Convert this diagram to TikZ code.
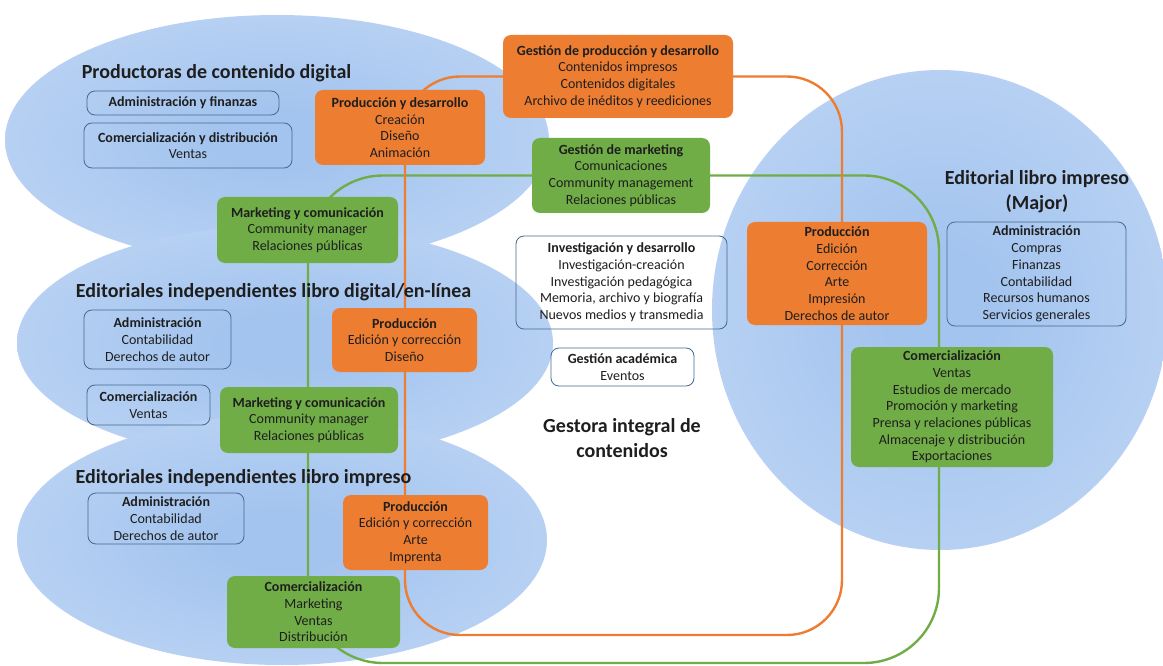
\documentclass[tikz,border=0pt]{standalone}
\usepackage{fontspec}
\setmainfont{Carlito}
\definecolor{borange}{HTML}{ED7D31}
\definecolor{bgreen}{HTML}{70AD47}
\definecolor{bin}{RGB}{163,196,239}
\definecolor{bmid}{RGB}{190,213,244}
\definecolor{bout}{RGB}{222,234,250}
\definecolor{oborder}{RGB}{70,105,145}
\definecolor{txt}{RGB}{30,30,30}
\pgfdeclareradialshading{bluegrad}{\pgfpoint{0bp}{0bp}}{color(0bp)=(bin); color(6bp)=(bin); color(32bp)=(bmid); color(50bp)=(bout)}
\pgfdeclarelayer{bg}
\pgfsetlayers{bg,main}
\begin{document}
\begin{tikzpicture}[x=1pt,y=-1pt,
  boxtext/.style={align=center, text=txt, font=\fontsize{14}{16.7}\selectfont, inner sep=0pt},
  obox/.style={boxtext, rounded corners=8pt, fill=borange},
  gbox/.style={boxtext, rounded corners=8pt, fill=bgreen},
  wbox/.style={boxtext, rounded corners=8pt, draw=oborder, line width=0.8pt},
  bigtitle/.style={align=center, text=txt, font=\fontsize{20}{25}\selectfont\bfseries, inner sep=0pt},
  oline/.style={draw=borange, line width=2.4pt},
  gline/.style={draw=bgreen, line width=2.4pt},
  blob/.style={shading=bluegrad}
]
\useasboundingbox (0,0) rectangle (1163,666);
\begin{pgfonlayer}{bg}
\fill[white] (0,0) rectangle (1163,666);
% background ellipses
\shade[blob] (277,140) ellipse [x radius=272pt, y radius=125pt];
\shade[blob] (285,343) ellipse [x radius=268pt, y radius=118pt];
\shade[blob] (282,540) ellipse [x radius=265pt, y radius=125pt];
\shade[blob] (940,310) ellipse [x radius=228pt, y radius=240pt];
\end{pgfonlayer}

% titles
\node[bigtitle] (t1) at (216.5,73) {Productoras de contenido digital};
\node[bigtitle] (t2) at (273.5,292) {Editoriales independientes libro digital/en-línea};
\node[bigtitle] (t3) at (243.5,478) {Editoriales independientes libro impreso};
\node[bigtitle] (t4) at (1037,191.5) {Editorial libro impreso\\(Major)};
\node[bigtitle] (t5) at (622,438) {Gestora integral de\\contenidos};

% filled boxes
\node[obox, minimum width=230pt, minimum height=83pt] (gpd) at (618,76.5)
  {\textbf{Gestión de producción y desarrollo}\\Contenidos impresos\\Contenidos digitales\\Archivo de inéditos y reediciones};
\node[gbox, minimum width=178pt, minimum height=75pt] (gm) at (621,175.5)
  {\textbf{Gestión de marketing}\\Comunicaciones\\Community management\\Relaciones públicas};
\node[obox, minimum width=170pt, minimum height=75pt] (pd) at (400,127.5)
  {\textbf{Producción y desarrollo}\\Creación\\Diseño\\Animación};
\node[gbox, minimum width=181pt, minimum height=66pt] (mc1) at (307.5,230)
  {\textbf{Marketing y comunicación}\\Community manager\\Relaciones públicas};
\node[obox, minimum width=145pt, minimum height=64pt] (prodD) at (404.5,340)
  {\textbf{Producción}\\Edición y corrección\\Diseño};
\node[gbox, minimum width=178pt, minimum height=66pt] (mc2) at (309,420)
  {\textbf{Marketing y comunicación}\\Community manager\\Relaciones públicas};
\node[obox, minimum width=145pt, minimum height=75pt] (prodI) at (415.5,532.5)
  {\textbf{Producción}\\Edición y corrección\\Arte\\Imprenta};
\node[gbox, minimum width=173pt, minimum height=72pt] (comI) at (313.5,612)
  {\textbf{Comercialización}\\Marketing\\Ventas\\Distribución};
\node[obox, minimum width=180pt, minimum height=103pt] (prodM) at (837,273.5)
  {\textbf{Producción}\\Edición\\Corrección\\Arte\\Impresión\\Derechos de autor};
\node[gbox, minimum width=202pt, minimum height=120pt] (comM) at (952,407)
  {\textbf{Comercialización}\\Ventas\\Estudios de mercado\\Promoción y marketing\\Prensa y relaciones públicas\\Almacenaje y distribución\\Exportaciones};

% outlined boxes
\node[wbox, minimum width=192pt, minimum height=24pt] (admF) at (183,103)
  {\textbf{Administración y finanzas}};
\node[wbox, minimum width=208pt, minimum height=45pt] (comF) at (188,145.5)
  {\textbf{Comercialización y distribución}\\Ventas};
\node[wbox, minimum width=147pt, minimum height=59pt] (admD) at (157.5,339.5)
  {\textbf{Administración}\\Contabilidad\\Derechos de autor};
\node[wbox, minimum width=123pt, minimum height=40pt] (comD) at (148.5,405)
  {\textbf{Comercialización}\\Ventas};
\node[wbox, minimum width=156pt, minimum height=51pt] (admI) at (166,518.5)
  {\textbf{Administración}\\Contabilidad\\Derechos de autor};
\node[wbox, minimum width=211pt, minimum height=93pt] (inv) at (621.5,282.5)
  {\textbf{Investigación y desarrollo}\\Investigación-creación\\Investigación pedagógica\\Memoria, archivo y biografía\\Nuevos medios y transmedia};
\node[wbox, minimum width=143pt, minimum height=38pt] (ga) at (622.5,367)
  {\textbf{Gestión académica}\\Eventos};
\node[wbox, minimum width=179pt, minimum height=104pt] (admM) at (1036.5,274)
  {\textbf{Administración}\\Compras\\Finanzas\\Contabilidad\\Recursos humanos\\Servicios generales};

% connector loops, behind the boxes
\begin{pgfonlayer}{bg}
\draw[gline, rounded corners=75pt] (gm.west) -- (308,175.5) -- (308,663) -- (939,663) -- (939,175.5) -- (gm.east);
\draw[oline, rounded corners=55pt] (gpd.west) -- (405,76.5) -- (405,635) -- (842,635) -- (842,76.5) -- (gpd.east);
\end{pgfonlayer}
\end{tikzpicture}
\end{document}
